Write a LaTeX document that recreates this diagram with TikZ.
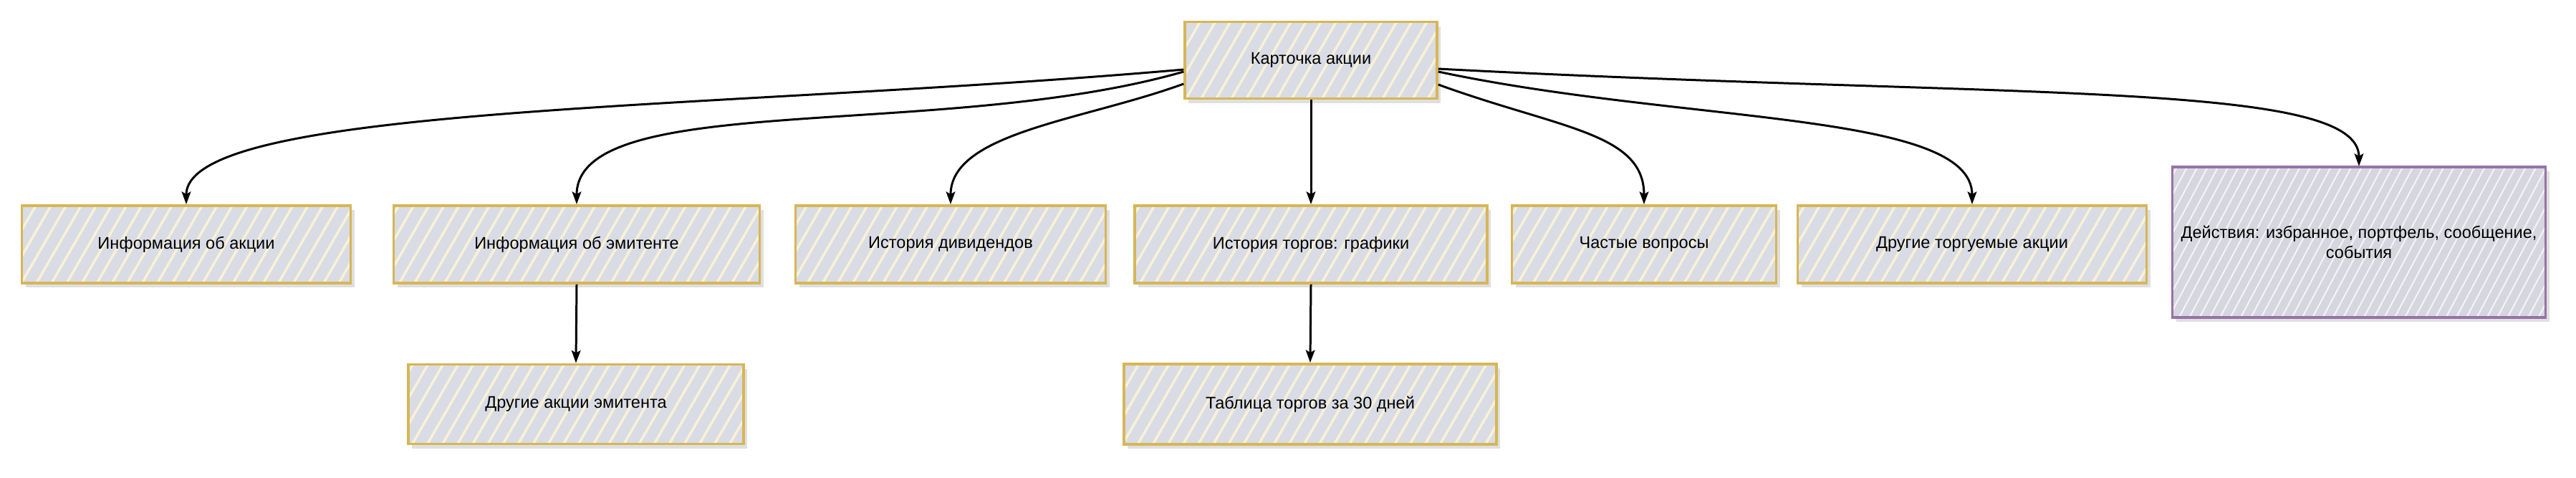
\documentclass[tikz,border=0pt]{standalone}
\usepackage{fontspec}
\setmainfont{Liberation Sans}
\usepackage{tikz}
\usetikzlibrary{arrows.meta,patterns.meta,shadows}
\definecolor{cardline}{HTML}{D6B656}
\definecolor{cardfill}{HTML}{D9DCE5}
\definecolor{cardhatch}{HTML}{F8F1D6}
\definecolor{actline}{HTML}{9673A6}
\definecolor{actfill}{HTML}{D6D6DF}
\definecolor{acthatch}{HTML}{F3F3F6}

\begin{document}
\begin{tikzpicture}[
  card/.style={draw=cardline,line width=1.1pt,
    drop shadow={shadow xshift=1.5pt,shadow yshift=-1.8pt,opacity=0.25,fill=gray},
    preaction={fill=cardfill},
    pattern={Lines[angle=60,distance=5.2pt,line width=1pt]},pattern color=cardhatch,
    inner sep=1pt,minimum height=1.08cm,
    font=\fontsize{6.7pt}{8pt}\selectfont},
  act/.style={card,draw=actline,preaction={fill=actfill},
    pattern={Lines[angle=62,distance=3.6pt,line width=0.6pt]},pattern color=acthatch,
    align=center,minimum width=5.21cm,minimum height=2.10cm}]
\useasboundingbox (0,0) rectangle (35.96,-6.66);
\begin{scope}[every node/.style={card}]
    \node (root) at (18.30,-0.84) [minimum width=3.52cm,minimum height=1.07cm] {Карточка акции};
    \node (info) at (2.60,-3.41) [minimum width=4.59cm] {Информация об акции};
    \node (issuer) at (8.05,-3.41) [minimum width=5.11cm] {Информация об эмитенте};
    \node (divs) at (13.27,-3.41) [minimum width=4.33cm] {История дивидендов};
    \node (trades) at (18.30,-3.41) [minimum width=4.92cm] {История торгов: графики};
    \node (faq) at (22.95,-3.41) [minimum width=3.69cm] {Частые вопросы};
    \node (traded) at (27.53,-3.41) [minimum width=4.87cm] {Другие торгуемые акции};
    \node (isshares) at (8.04,-5.64) [minimum width=4.68cm,minimum height=1.11cm] {Другие акции эмитента};
    \node (table) at (18.29,-5.64) [minimum width=5.20cm,minimum height=1.12cm] {Таблица торгов за 30 дней};
\end{scope}
\node[act] (actions) at (32.93,-3.38) {Действия: избранное, портфель, сообщение,\\события};

\begin{scope}[>={Stealth[black,length=5pt,width=3.6pt,inset=1pt]},
              every edge/.style={draw=black,line width=0.85pt}]
    \path [->] ([yshift=-1.3mm]root.west) edge[out=185,in=90,out distance=6.5cm,in distance=1.4cm] (info.north);
    \path [->] ([yshift=-1.6mm]root.west) edge[out=196,in=90,out distance=3.5cm,in distance=1.6cm] (issuer.north);
    \path [->] ([yshift=-3.3mm]root.west) edge[out=200,in=90,out distance=1.5cm,in distance=1cm] (divs.north);
    \path [->] (root.south) edge (trades.north);
    \path [->] ([yshift=-3.4mm]root.east) edge[out=-20,in=90,out distance=1.8cm,in distance=1cm] (faq.north);
    \path [->] ([yshift=-1.6mm]root.east) edge[out=-12,in=90,out distance=3.5cm,in distance=1.3cm] (traded.north);
    \path [->] ([yshift=-1.2mm]root.east) edge[out=-3,in=90,out distance=8cm,in distance=1.2cm] (actions.north);
    \path [->] (issuer.south) edge (isshares.north);
    \path [->] (trades.south) edge (table.north);
\end{scope}
\end{tikzpicture}
\end{document}
